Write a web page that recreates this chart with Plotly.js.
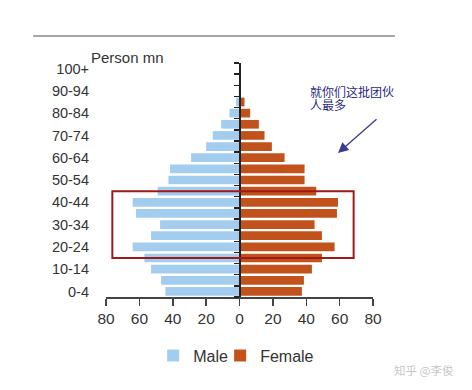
<!DOCTYPE html>
<html>
<head>
<meta charset="utf-8">
<script src="https://cdn.plot.ly/plotly-3.0.1.min.js"></script>
<style>html,body{margin:0;padding:0;background:#fff;}#chart{width:472px;height:390px;}</style>
</head>
<body>
<div id="chart"></div>
<script>
// Age groups, bottom to top
const ageGroups = ['0-4','5-9','10-14','15-19','20-24','25-29','30-34','35-39','40-44','45-49',
  '50-54','55-59','60-64','65-69','70-74','75-79','80-84','85-89','90-94','95-99','100+'];
// Population, million persons
const maleValues   = [44.4, 47, 53, 57, 64, 53, 47.6, 62, 64, 49, 42.6, 41.6, 29, 20, 16, 11, 6, 2, 0.5, 0.1, 0];
const femaleValues = [37.4, 38.6, 43.4, 49.4, 57, 49.4, 45, 58.4, 59, 46, 39, 39, 27, 19.4, 15, 11.6, 6.4, 3, 0.8, 0.2, 0];
const yTickLabels = ['0-4','10-14','20-24','30-34','40-44','50-54','60-64','70-74','80-84','90-94','100+'];
const xTickVals = [-80,-60,-40,-20,0,20,40,60,80];
const xTickText = ['80','60','40','20','0','20','40','60','80'];
const noteLine1 = '就你们这批团伙';
const noteLine2 = '人最多';

const boundaries = [];
for (let i = 0; i <= ageGroups.length; i++) boundaries.push(i - 0.5);

const traces = [
  {type:'bar', orientation:'h', name:'Male', y:ageGroups, x:maleValues.map(v=>-v),
   marker:{color:'#a3cdee'}, hoverinfo:'skip'},
  {type:'bar', orientation:'h', name:'Female', y:ageGroups, x:femaleValues,
   marker:{color:'#c2521c'}, hoverinfo:'skip'},
  // blank legend spacer so the last legend label is not clipped
  {type:'bar', orientation:'h', name:' ', y:[ageGroups[0]], x:[0],
   marker:{color:'rgba(0,0,0,0)'}, hoverinfo:'skip'},
  // carrier for the central axis (no visible marks)
  {type:'scatter', mode:'none', x:[0], y:[0], yaxis:'y2', showlegend:false, hoverinfo:'skip'}
];

const noteFont = {family:'Noto Sans CJK SC, sans-serif', size:12, color:'#2a2a7e'};

const layout = {
  width:472, height:390,
  margin:{l:106, r:99, t:63, b:93},
  paper_bgcolor:'#fff', plot_bgcolor:'#fff',
  barmode:'relative', bargap:0.22,
  font:{family:'Liberation Sans, Arial, sans-serif', color:'#333'},
  showlegend:true,
  legend:{orientation:'h', x:0.553, xanchor:'center', y:-0.25, yanchor:'middle',
          font:{size:16, color:'#333'}, entrywidth:22, entrywidthmode:'pixels'},
  xaxis:{range:[-80,80], tickvals:xTickVals, ticktext:xTickText, ticks:'outside', ticklen:7,
         tickcolor:'#444', tickwidth:1.5, showline:true, linecolor:'#444', linewidth:1.5,
         showgrid:false, zeroline:false, tickfont:{size:15.5, color:'#333'}, fixedrange:true},
  yaxis:{type:'category', categoryorder:'array', categoryarray:ageGroups, range:[-0.5,20.5],
         tickvals:yTickLabels, ticktext:yTickLabels, ticks:'', showline:false, showgrid:false,
         zeroline:false, ticklabelstandoff:16, tickfont:{size:14.5, color:'#333'}, fixedrange:true},
  yaxis2:{overlaying:'y', anchor:'free', position:0.5, side:'left', range:[-0.5,20.5],
          tickvals:boundaries, showticklabels:false, ticks:'outside', ticklen:5, tickwidth:1.5,
          tickcolor:'#222', showline:true, linecolor:'#222', linewidth:2, showgrid:false,
          zeroline:false, fixedrange:true, layer:'above traces'},
  shapes:[
    {type:'line', xref:'paper', yref:'paper', x0:-0.273, x1:1.082, y0:1.115, y1:1.115,
     line:{color:'#8a8a8a', width:1.5}},
    {type:'rect', xref:'x', yref:'y', x0:-76.2, x1:68.4, y0:3, y1:9,
     line:{color:'#a01818', width:2}, fillcolor:'rgba(0,0,0,0)'}
  ],
  annotations:[
    {xref:'paper', yref:'paper', x:-0.062, y:1.022, xanchor:'left', yanchor:'middle',
     text:'Person mn', showarrow:false, font:{size:15, color:'#333'}},
    {xref:'paper', yref:'paper', x:0.757, y:(297-91.5)/234, xanchor:'left', yanchor:'middle',
     text:noteLine1, showarrow:false, font:noteFont},
    {xref:'paper', yref:'paper', x:0.757, y:(297-104)/234, xanchor:'left', yanchor:'middle',
     text:noteLine2, showarrow:false, font:noteFont},
    {xref:'paper', yref:'paper', x:(338-106)/267, y:(297-153)/234, text:'', showarrow:true,
     axref:'pixel', ayref:'pixel', ax:40, ay:-35, arrowhead:2, arrowsize:1.6, arrowwidth:1.3,
     arrowcolor:'#3a3a90'},
    {xref:'paper', yref:'paper', x:(455-106)/267, y:(297-370)/234, xanchor:'right', yanchor:'middle',
     text:'知乎 @李俊', showarrow:false,
     font:{family:'Noto Sans CJK SC, sans-serif', size:11.5, color:'#c8c8c8'}}
  ]
};

Plotly.newPlot('chart', traces, layout, {staticPlot:true, displayModeBar:false});
</script>
</body>
</html>
